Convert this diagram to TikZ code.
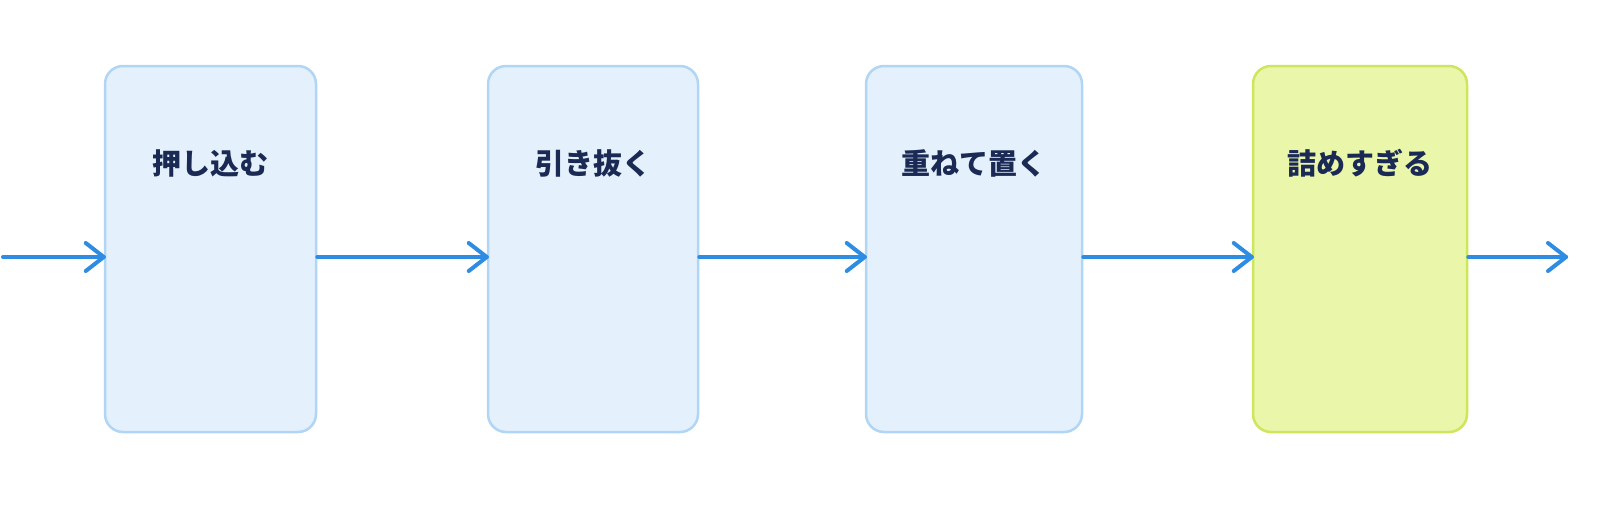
\documentclass[tikz,border=0pt]{standalone}
\usepackage{fontspec}
\newfontfamily\cjk{Noto Sans CJK JP}
\definecolor{boxfill}{HTML}{E4F1FC}
\definecolor{boxline}{HTML}{B0D5F5}
\definecolor{hotfill}{HTML}{EAF6AA}
\definecolor{hotline}{HTML}{CDE65C}
\definecolor{flow}{HTML}{2E8CE2}
\definecolor{ink}{HTML}{1B2A55}
\begin{document}
\begin{tikzpicture}[x=1pt,y=-1pt]

        \begin{scope}[every node/.style={draw,line width=2.5pt,rounded corners=18pt,
            minimum height=366pt,inner sep=0pt,fill=boxfill,draw=boxline}]
          \node[minimum width=211pt] (a) at (210.5,249) {};
          \node[minimum width=210pt] (b) at (593,249) {};
          \node[minimum width=216pt] (c) at (974,249) {};
          \node[minimum width=214pt,fill=hotfill,draw=hotline] (d) at (1360,249) {};
        \end{scope}

        \begin{scope}[every node/.style={font=\cjk\bfseries\fontsize{29pt}{32pt}\selectfont,text=ink}]
          \node (ta) at (210.5,163) {押し込む};
          \node (tb) at (593,163) {引き抜く};
          \node (tc) at (974,163) {重ねて置く};
          \node (td) at (1360,163) {詰めすぎる};
        \end{scope}

        \coordinate (in)  at (3,257);
        \coordinate (out) at (1566,257);

        \begin{scope}[line width=4pt,line cap=round,line join=round,flow]
          \draw (in) -- (a.west |- in);
          \draw (a.east |- in) -- (b.west |- in);
          \draw (b.east |- in) -- (c.west |- in);
          \draw (c.east |- in) -- (d.west |- in);
          \draw (d.east |- in) -- (out);
          \foreach \tip in {a,b,c,d}
            \draw ([shift={(-18,-14)}]\tip.west |- in) -- (\tip.west |- in) -- ([shift={(-18,14)}]\tip.west |- in);
          \draw ([shift={(-18,-14)}]out) -- (out) -- ([shift={(-18,14)}]out);
        \end{scope}

        \pgfresetboundingbox
        \useasboundingbox (0,0) rectangle (1600,509);
      \end{tikzpicture}
\end{document}
